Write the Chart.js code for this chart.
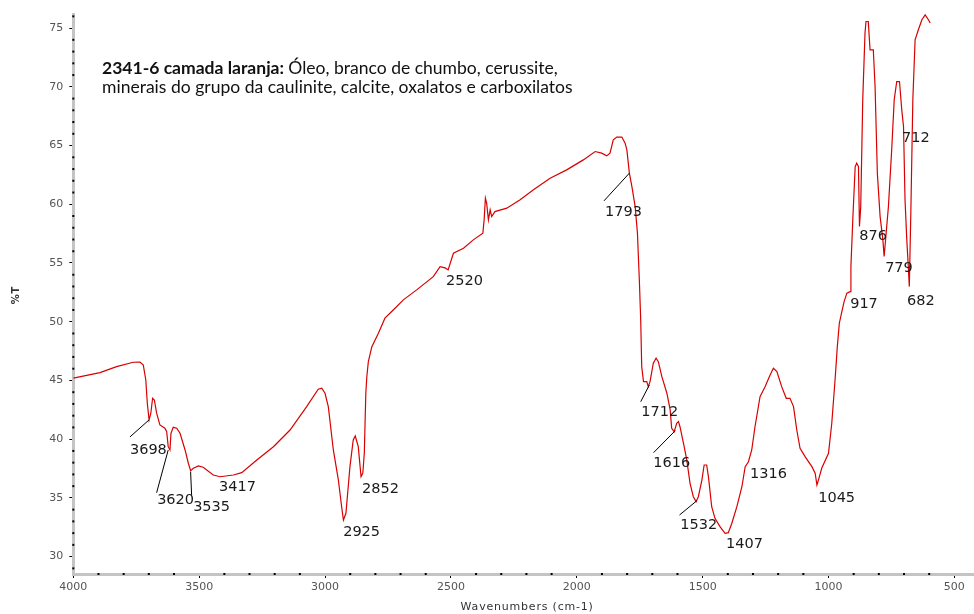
<!DOCTYPE html>
<html>
<head>
<meta charset="utf-8">
<script src="https://cdn.jsdelivr.net/npm/chart.js@4.4.1/dist/chart.umd.min.js"></script>
<style>
  body { margin: 0; background: #fff; }
  canvas { display: block; }
</style>
</head>
<body>
<canvas id="spectrum" width="974" height="614"></canvas>
<script>
// Spectrum (cm-1 and %T)
const wavenumbers = [
    4000, 3894, 3828, 3762, 3735, 3722, 3712, 3706, 3699, 3692, 3685, 3678, 3669, 3656, 3636, 3629,
    3623, 3616, 3612, 3603, 3589, 3576, 3556, 3543, 3534, 3523, 3503, 3484, 3444, 3417, 3364, 3331,
    3271, 3205, 3139, 3073, 3027, 3013, 3000, 2987, 2967, 2947, 2934, 2927, 2917, 2901, 2888, 2880,
    2868, 2857, 2850, 2844, 2838, 2834, 2828, 2814, 2788, 2762, 2722, 2689, 2636, 2570, 2543, 2523,
    2511, 2490, 2450, 2411, 2373, 2368, 2363, 2358, 2351, 2344, 2338, 2325, 2278, 2225, 2172, 2106,
    2040, 1974, 1927, 1901, 1881, 1868, 1855, 1841, 1821, 1808, 1801, 1791, 1781, 1768, 1759, 1751,
    1746, 1742, 1735, 1722, 1716, 1709, 1696, 1685, 1676, 1662, 1642, 1629, 1623, 1613, 1603, 1596,
    1590, 1576, 1563, 1550, 1537, 1526, 1517, 1503, 1494, 1484, 1477, 1464, 1451, 1431, 1411, 1398,
    1384, 1364, 1344, 1331, 1318, 1305, 1292, 1272, 1252, 1232, 1219, 1205, 1186, 1168, 1153, 1139,
    1126, 1113, 1093, 1066, 1053, 1046, 1040, 1027, 1000, 987, 974, 965, 957, 947, 938, 927,
    914, 911, 903, 894, 888, 881, 877, 872, 864, 855, 851, 842, 835, 822, 815, 806,
    795, 784, 779, 771, 762, 749, 739, 729, 718, 709, 702, 696, 689, 683, 679, 673,
    665, 656, 643, 629, 616, 603, 596
];
const transmittance = [
    45.19, 45.67, 46.18, 46.55, 46.57, 46.32, 45.04, 43.06, 41.64, 42.21, 43.48, 43.34, 42.21, 41.21, 40.93, 40.64,
    39.36, 39.08, 40.5, 41.01, 40.93, 40.5, 39.08, 37.95, 37.32, 37.52, 37.72, 37.61, 36.95, 36.8, 36.95, 37.15,
    38.23, 39.36, 40.78, 42.77, 44.25, 44.34, 43.91, 42.77, 39.08, 36.52, 34.25, 33.12, 33.69, 37.66, 39.93, 40.27,
    39.36, 36.81, 37.1, 38.8, 43.91, 45.32, 46.6, 47.88, 49.02, 50.3, 51.15, 51.86, 52.71, 53.84, 54.69, 54.58,
    54.41, 55.83, 56.26, 56.97, 57.54, 58.67, 60.52, 60.1, 58.67, 59.52, 58.95, 59.38, 59.67, 60.38, 61.23, 62.22,
    62.93, 63.78, 64.49, 64.35, 64.12, 64.35, 65.49, 65.72, 65.72, 65.2, 64.63, 62.65, 61.51, 59.8, 57.54, 53.28,
    50.15, 46.18, 44.9, 44.9, 44.47, 44.9, 46.47, 46.89, 46.6, 45.32, 43.91, 42.49, 40.93, 40.64, 41.35, 41.49,
    41.06, 39.65, 38.23, 36.24, 35.1, 34.68, 35.1, 36.52, 37.8, 37.8, 36.81, 34.25, 33.26, 32.55, 31.98, 32.04,
    32.84, 34.25, 35.95, 37.66, 38.08, 39.08, 41.06, 43.62, 44.47, 45.47, 46.04, 45.75, 44.47, 43.48, 43.48, 42.77,
    40.78, 39.22, 38.51, 37.66, 37.1, 36.1, 36.52, 37.52, 38.8, 41.35, 45.04, 47.88, 49.87, 50.86, 51.71, 52.43,
    52.56, 54.69, 58.95, 63.21, 63.5, 63.21, 58.1, 59.8, 68.89, 74.57, 75.56, 75.56, 73.15, 73.15, 70.03, 62.65,
    58.95, 56.97, 55.55, 57.54, 59.8, 64.63, 68.89, 70.45, 70.45, 68.04, 66.62, 60.38, 56.97, 54.69, 52.99, 59.24,
    68.89, 74.0, 74.86, 75.71, 76.13, 75.71, 75.43
];

// Peak labels as printed on the spectrum
const peakNames = ['3698', '3620', '3535', '3417', '2925', '2852', '2520', '1793', '1712', '1616',
                   '1532', '1407', '1316', '1045', '917', '876', '779', '712', '682'];
const peakTextX = [3775, 3667, 3524, 3421, 2928, 2853, 2519, 1888, 1744, 1696,
                   1589, 1407, 1312, 1041, 914, 878, 775, 708, 688];
const peakTextY = [39.08, 34.82, 34.22, 35.93, 32.09, 35.76, 53.48, 59.35, 42.32, 37.97,
                   32.69, 31.07, 37.04, 35.0, 51.52, 57.31, 54.58, 65.66, 51.77];
// leader lines: [x1, y1, x2, y2] in data units
const leaders = [
    [3775, 40.19, 3699, 41.64],
    [3669, 35.44, 3623, 39.08],
    [3530, 35.25, 3534, 37.23],
    [1892, 60.29, 1791, 62.65],
    [1746, 43.19, 1712, 44.6],
    [1695, 38.85, 1609, 40.72],
    [1592, 33.54, 1523, 34.76]
];

const titleBold = '2341-6 camada laranja: ';
const titleRest1 = 'Óleo, branco de chumbo, cerussite,';
const titleLine2 = 'minerais do grupo da caulinite, calcite, oxalatos e carboxilatos';

const xTicks = [];
for (let v = 500; v <= 4000; v += 100) xTicks.push(v);
const yTicks = [];
for (let v = 29; v <= 76; v += 1) yTicks.push(v);

const extras = {
    id: 'extras',
    afterDraw(chart) {
        const ctx = chart.ctx;
        const xs = chart.scales.x;
        const ys = chart.scales.y;
        const area = chart.chartArea;
        ctx.save();

        // minor tick dots on the axis lines
        ctx.fillStyle = '#000';
        xTicks.forEach((v) => {
            if (v % 500 !== 0) ctx.fillRect(xs.getPixelForValue(v) - 1, area.bottom - 1, 2, 2);
        });
        yTicks.forEach((v) => {
            if (v % 5 !== 0) ctx.fillRect(area.left - 1, ys.getPixelForValue(v) - 1, 2, 2);
        });

        // leader lines
        ctx.strokeStyle = '#000';
        ctx.lineWidth = 1;
        leaders.forEach((l) => {
            ctx.beginPath();
            ctx.moveTo(xs.getPixelForValue(l[0]), ys.getPixelForValue(l[1]));
            ctx.lineTo(xs.getPixelForValue(l[2]), ys.getPixelForValue(l[3]));
            ctx.stroke();
        });

        // peak labels
        ctx.fillStyle = '#1a1a1a';
        ctx.font = '14.5px "DejaVu Sans"';
        ctx.textAlign = 'left';
        ctx.textBaseline = 'middle';
        peakNames.forEach((name, i) => {
            ctx.fillText(name, xs.getPixelForValue(peakTextX[i]), ys.getPixelForValue(peakTextY[i]));
        });

        // title block
        ctx.textBaseline = 'alphabetic';
        ctx.font = '20px Lato';
        const w = ctx.measureText(titleLine2).width;
        const size = 20 * 471 / w;
        ctx.fillStyle = '#111';
        ctx.font = 'bold ' + size + 'px Lato';
        ctx.fillText(titleBold, 102, 74);
        const bw = ctx.measureText(titleBold).width;
        ctx.font = size + 'px Lato';
        ctx.fillText(titleRest1, 102 + bw, 74);
        ctx.fillText(titleLine2, 102, 93);

        // axis titles
        ctx.fillStyle = '#333';
        ctx.font = '11px "DejaVu Sans"';
        ctx.letterSpacing = '0.8px';
        ctx.textAlign = 'center';
        ctx.textBaseline = 'middle';
        ctx.fillText('Wavenumbers (cm-1)', (area.left + area.right) / 2 + 4, 607);
        ctx.translate(16, 295);
        ctx.rotate(-Math.PI / 2);
        ctx.font = 'bold 10px "DejaVu Sans"';
        ctx.fillText('%T', 0, 0);
        ctx.restore();
    }
};

const ctx = document.getElementById('spectrum').getContext('2d');
const points = wavenumbers.map((x, i) => ({ x: x, y: transmittance[i] }));

new Chart(ctx, {
    type: 'line',
    data: {
        datasets: [{
            data: points,
            borderColor: '#d80000',
            borderWidth: 1.2,
            pointRadius: 0,
            tension: 0,
            fill: false,
        }],
    },
    options: {
        responsive: false,
        animation: false,
        parsing: true,
        layout: { padding: { top: 14, right: 1, left: 0, bottom: 0 } },
        plugins: { legend: { display: false }, tooltip: { enabled: false } },
        scales: {
            x: {
                type: 'linear',
                reverse: true,
                min: 426,
                max: 4000,
                afterBuildTicks: (scale) => { scale.ticks = xTicks.map((v) => ({ value: v })); },
                afterFit: (scale) => { scale.height = 40; },
                border: { display: true, color: '#c4c4c4', width: 3 },
                grid: {
                    drawOnChartArea: false,
                    tickLength: 4,
                    tickColor: (c) => (c.tick && c.tick.value % 500 === 0 ? '#000' : 'rgba(0,0,0,0)'),
                },
                ticks: {
                    autoSkip: false,
                    maxRotation: 0,
                    padding: 3,
                    color: '#555',
                    font: { family: 'DejaVu Sans', size: 11 },
                    callback: (v) => (v % 500 === 0 ? String(v) : ''),
                },
            },
            y: {
                min: 28.52,
                max: 76.2,
                afterBuildTicks: (scale) => { scale.ticks = yTicks.map((v) => ({ value: v })); },
                afterFit: (scale) => { scale.width = 73.3; },
                border: { display: true, color: '#c4c4c4', width: 3 },
                grid: {
                    drawOnChartArea: false,
                    tickLength: 4,
                    tickColor: (c) => (c.tick && c.tick.value % 5 === 0 ? '#000' : 'rgba(0,0,0,0)'),
                },
                ticks: {
                    autoSkip: false,
                    padding: 6,
                    color: '#555',
                    font: { family: 'DejaVu Sans', size: 11 },
                    callback: (v) => (v % 5 === 0 ? String(v) : ''),
                },
            },
        },
    },
    plugins: [extras],
});
</script>
</body>
</html>
